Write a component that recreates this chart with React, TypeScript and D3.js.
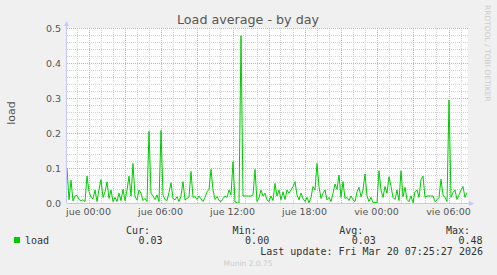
import React from "react";
import * as d3 from "d3";

// ---- data ----
const startTime = Date.UTC(2026, 2, 18, 22, 12, 30); // first sample
const stepMinutes = 10;
const loadValues = [
  0.10, 0.009, 0.065, 0.006, 0.02, 0.022, 0.01, 0.007, 0.009, 0.004,
  0.077, 0.033, 0.016, 0.012, 0.037, 0.004, 0.039, 0.067, 0.016, 0.032,
  0.06, 0.013, 0.037, 0.004, 0.016, 0.004, 0.028, 0.007, 0.039, 0.007,
  0.037, 0.077, 0.02, 0.113, 0.018, 0.009, 0.037, 0.028, 0.007, 0.013,
  0.004, 0.205, 0.028, 0.02, 0.01, 0.023, 0.004, 0.207, 0.023, 0.01,
  0.007, 0.03, 0.058, 0.013, 0.009, 0.018, 0.004, 0.02, 0.061, 0.009,
  0.013, 0.018, 0.09, 0.016, 0.018, 0.01, 0.02, 0.012, 0.004, 0.016,
  0.032, 0.039, 0.096, 0.037, 0.01, 0.018, 0.007, 0.004, 0.013, 0.02,
  0.016, 0.037, 0.023, 0.118, 0.003, 0.0, 0.0, 0.478, 0.02, 0.02,
  0.02, 0.02, 0.02, 0.023, 0.096, 0.004, 0.016, 0.037, 0.02, 0.028,
  0.009, 0.004, 0.02, 0.007, 0.056, 0.02, 0.037, 0.009, 0.032, 0.01,
  0.037, 0.028, 0.037, 0.047, 0.061, 0.023, 0.009, 0.028, 0.013, 0.004,
  0.016, 0.001, 0.016, 0.047, 0.037, 0.113, 0.047, 0.013, 0.028, 0.037,
  0.009, 0.016, 0.004, 0.028, 0.054, 0.039, 0.08, 0.016, 0.061, 0.013,
  0.016, 0.007, 0.02, 0.009, 0.004, 0.032, 0.045, 0.018, 0.037, 0.083,
  0.02, 0.004, 0.016, 0.001, 0.001, 0.001, 0.092, 0.037, 0.016, 0.047,
  0.028, 0.075, 0.047, 0.016, 0.01, 0.037, 0.007, 0.092, 0.018, 0.045,
  0.01, 0.004, 0.02, 0.001, 0.032, 0.037, 0.016, 0.066, 0.077, 0.016,
  0.02, 0.02, 0.02, 0.02, 0.004, 0.009, 0.016, 0.068, 0.023, 0.016,
  0.004, 0.294, 0.016, 0.03, 0.037, 0.01, 0.023, 0.037, 0.047, 0.016,
  0.03,
];
const yTicks = [0, 0.1, 0.2, 0.3, 0.4, 0.5];
const xTickLabels = ["jue 00:00", "jue 06:00", "jue 12:00", "jue 18:00", "vie 00:00", "vie 06:00"];
const xTickTimes = [
  Date.UTC(2026, 2, 19, 0), Date.UTC(2026, 2, 19, 6), Date.UTC(2026, 2, 19, 12),
  Date.UTC(2026, 2, 19, 18), Date.UTC(2026, 2, 20, 0), Date.UTC(2026, 2, 20, 6),
];
const legendHeaders = ["Cur:", "Min:", "Avg:", "Max:"];
const legendValues = ["0.03", "0.00", "0.03", "0.48"];
const title = "Load average - by day";
const lastUpdate = "Last update: Fri Mar 20 07:25:27 2026";

const W = 497, H = 275;
const L = 67, R = 467, T = 28, B = 203;

export default function App() {
  const t0 = startTime;
  const t1 = startTime + 2000 * 60000;
  const x = d3.scaleUtc().domain([new Date(t0), new Date(t1)]).range([L, R]);
  const y = d3.scaleLinear().domain([0, 0.5]).range([B, T]);

  const pts = loadValues.map((v, i) => ({ t: new Date(t0 + i * stepMinutes * 60000), v }));
  const line = d3.line<{ t: Date; v: number }>().x(d => x(d.t)).y(d => y(d.v));

  const hours = d3.utcHour.range(new Date(t0), new Date(t1));
  const minorH = d3.range(0, 0.5001, 0.02);

  const sans = "DejaVu Sans, sans-serif";
  const mono = "DejaVu Sans Mono, monospace";
  const axisCol = "#c4c8ff";
  const textCol = "#555";

  return (
    <svg width={W} height={H} style={{ position: "absolute", left: 0, top: 0, background: "#f0f0f0" }}>
      <rect x={0} y={0} width={W} height={H} fill="#f0f0f0" />
      <rect x={L} y={T} width={R - L + 1} height={B - T} fill="#ffffff" />
      {/* minor horizontal grid */}
      {minorH.map((v, i) => (
        <line key={"mh" + i} x1={L} x2={R + 1} y1={Math.round(y(v)) + 0.5} y2={Math.round(y(v)) + 0.5}
          stroke="#d2d2d2" strokeDasharray="1,1" />
      ))}
      {/* minor vertical grid */}
      {hours.map((h, i) => {
        const px = Math.round(x(h)) + 0.5;
        return <line key={"mv" + i} x1={px} x2={px} y1={T} y2={B} stroke="#d2d2d2" strokeDasharray="1,1" />;
      })}
      {/* major vertical grid */}
      {hours.filter(h => h.getUTCHours() % 3 === 0).map((h, i) => {
        const px = Math.round(x(h)) + 0.5;
        return <line key={"Mv" + i} x1={px} x2={px} y1={T} y2={B} stroke="#f0a0a0" strokeDasharray="1,1" />;
      })}
      {/* major horizontal grid */}
      {yTicks.map((v, i) => (
        <line key={"Mh" + i} x1={L} x2={R + 1} y1={Math.round(y(v)) + 0.5} y2={Math.round(y(v)) + 0.5}
          stroke="#f0a0a0" strokeDasharray="1,1" />
      ))}
      {/* y tick labels */}
      {yTicks.map((v, i) => (
        <text key={"yl" + i} x={61} y={y(v) + 3.5} textAnchor="end" fontFamily={sans} fontSize={9.5} fill={textCol}>
          {v.toFixed(1)}
        </text>
      ))}
      {/* x tick labels */}
      {xTickTimes.map((t, i) => (
        <text key={"xl" + i} x={x(new Date(t))} y={214.5} textAnchor="middle" fontFamily={sans} fontSize={9.5} fill={textCol}>
          {xTickLabels[i]}
        </text>
      ))}
      {/* data line */}
      <path d={line(pts) || ""} fill="none" stroke="#00cc00" strokeWidth={1} />
      {/* axes */}
      <line x1={L - 0.5} x2={L - 0.5} y1={B} y2={24} stroke={axisCol} />
      <path d={`M${L - 3},${26} L${L - 0.5},${21} L${L + 2},${26} Z`} fill={axisCol} />
      <line x1={L} x2={R + 3} y1={B + 0.5} y2={B + 0.5} stroke={axisCol} />
      <path d={`M${R + 2},${B - 2} L${R + 7},${B + 0.5} L${R + 2},${B + 3} Z`} fill={axisCol} />
      {/* title */}
      <text x={248} y={24} textAnchor="middle" fontFamily={sans} fontSize={12.7} fill={textCol}>{title}</text>
      {/* y axis label */}
      <text transform="translate(15,113) rotate(-90)" textAnchor="middle" fontFamily={sans} fontSize={11} fill={textCol}>load</text>
      {/* watermark */}
      <text transform="translate(485,5) rotate(90)" textAnchor="start" fontFamily={sans} fontSize={7.5} fill="#cccccc">RRDTOOL / TOBI OETIKER</text>
      {/* legend */}
      <rect x={14} y={237} width={6} height={6} fill="#00cc00" />
      <text x={25} y={243.5} fontFamily={mono} fontSize={10} fill="#333">load</text>
      {legendHeaders.map((h, i) => (
        <text key={"lh" + i} x={150 + i * 106.7} y={233.5} textAnchor="end" fontFamily={mono} fontSize={10} fill="#333">{h}</text>
      ))}
      {legendValues.map((v, i) => (
        <text key={"lv" + i} x={162.5 + i * 106.7} y={243.5} textAnchor="end" fontFamily={mono} fontSize={10} fill="#333">{v}</text>
      ))}
      <text x={483} y={255} textAnchor="end" fontFamily={mono} fontSize={10} fill="#333">{lastUpdate}</text>
      <text x={248} y={266} textAnchor="middle" fontFamily={sans} fontSize={7.5} fill="#cccccc">Munin 2.0.75</text>
    </svg>
  );
}
